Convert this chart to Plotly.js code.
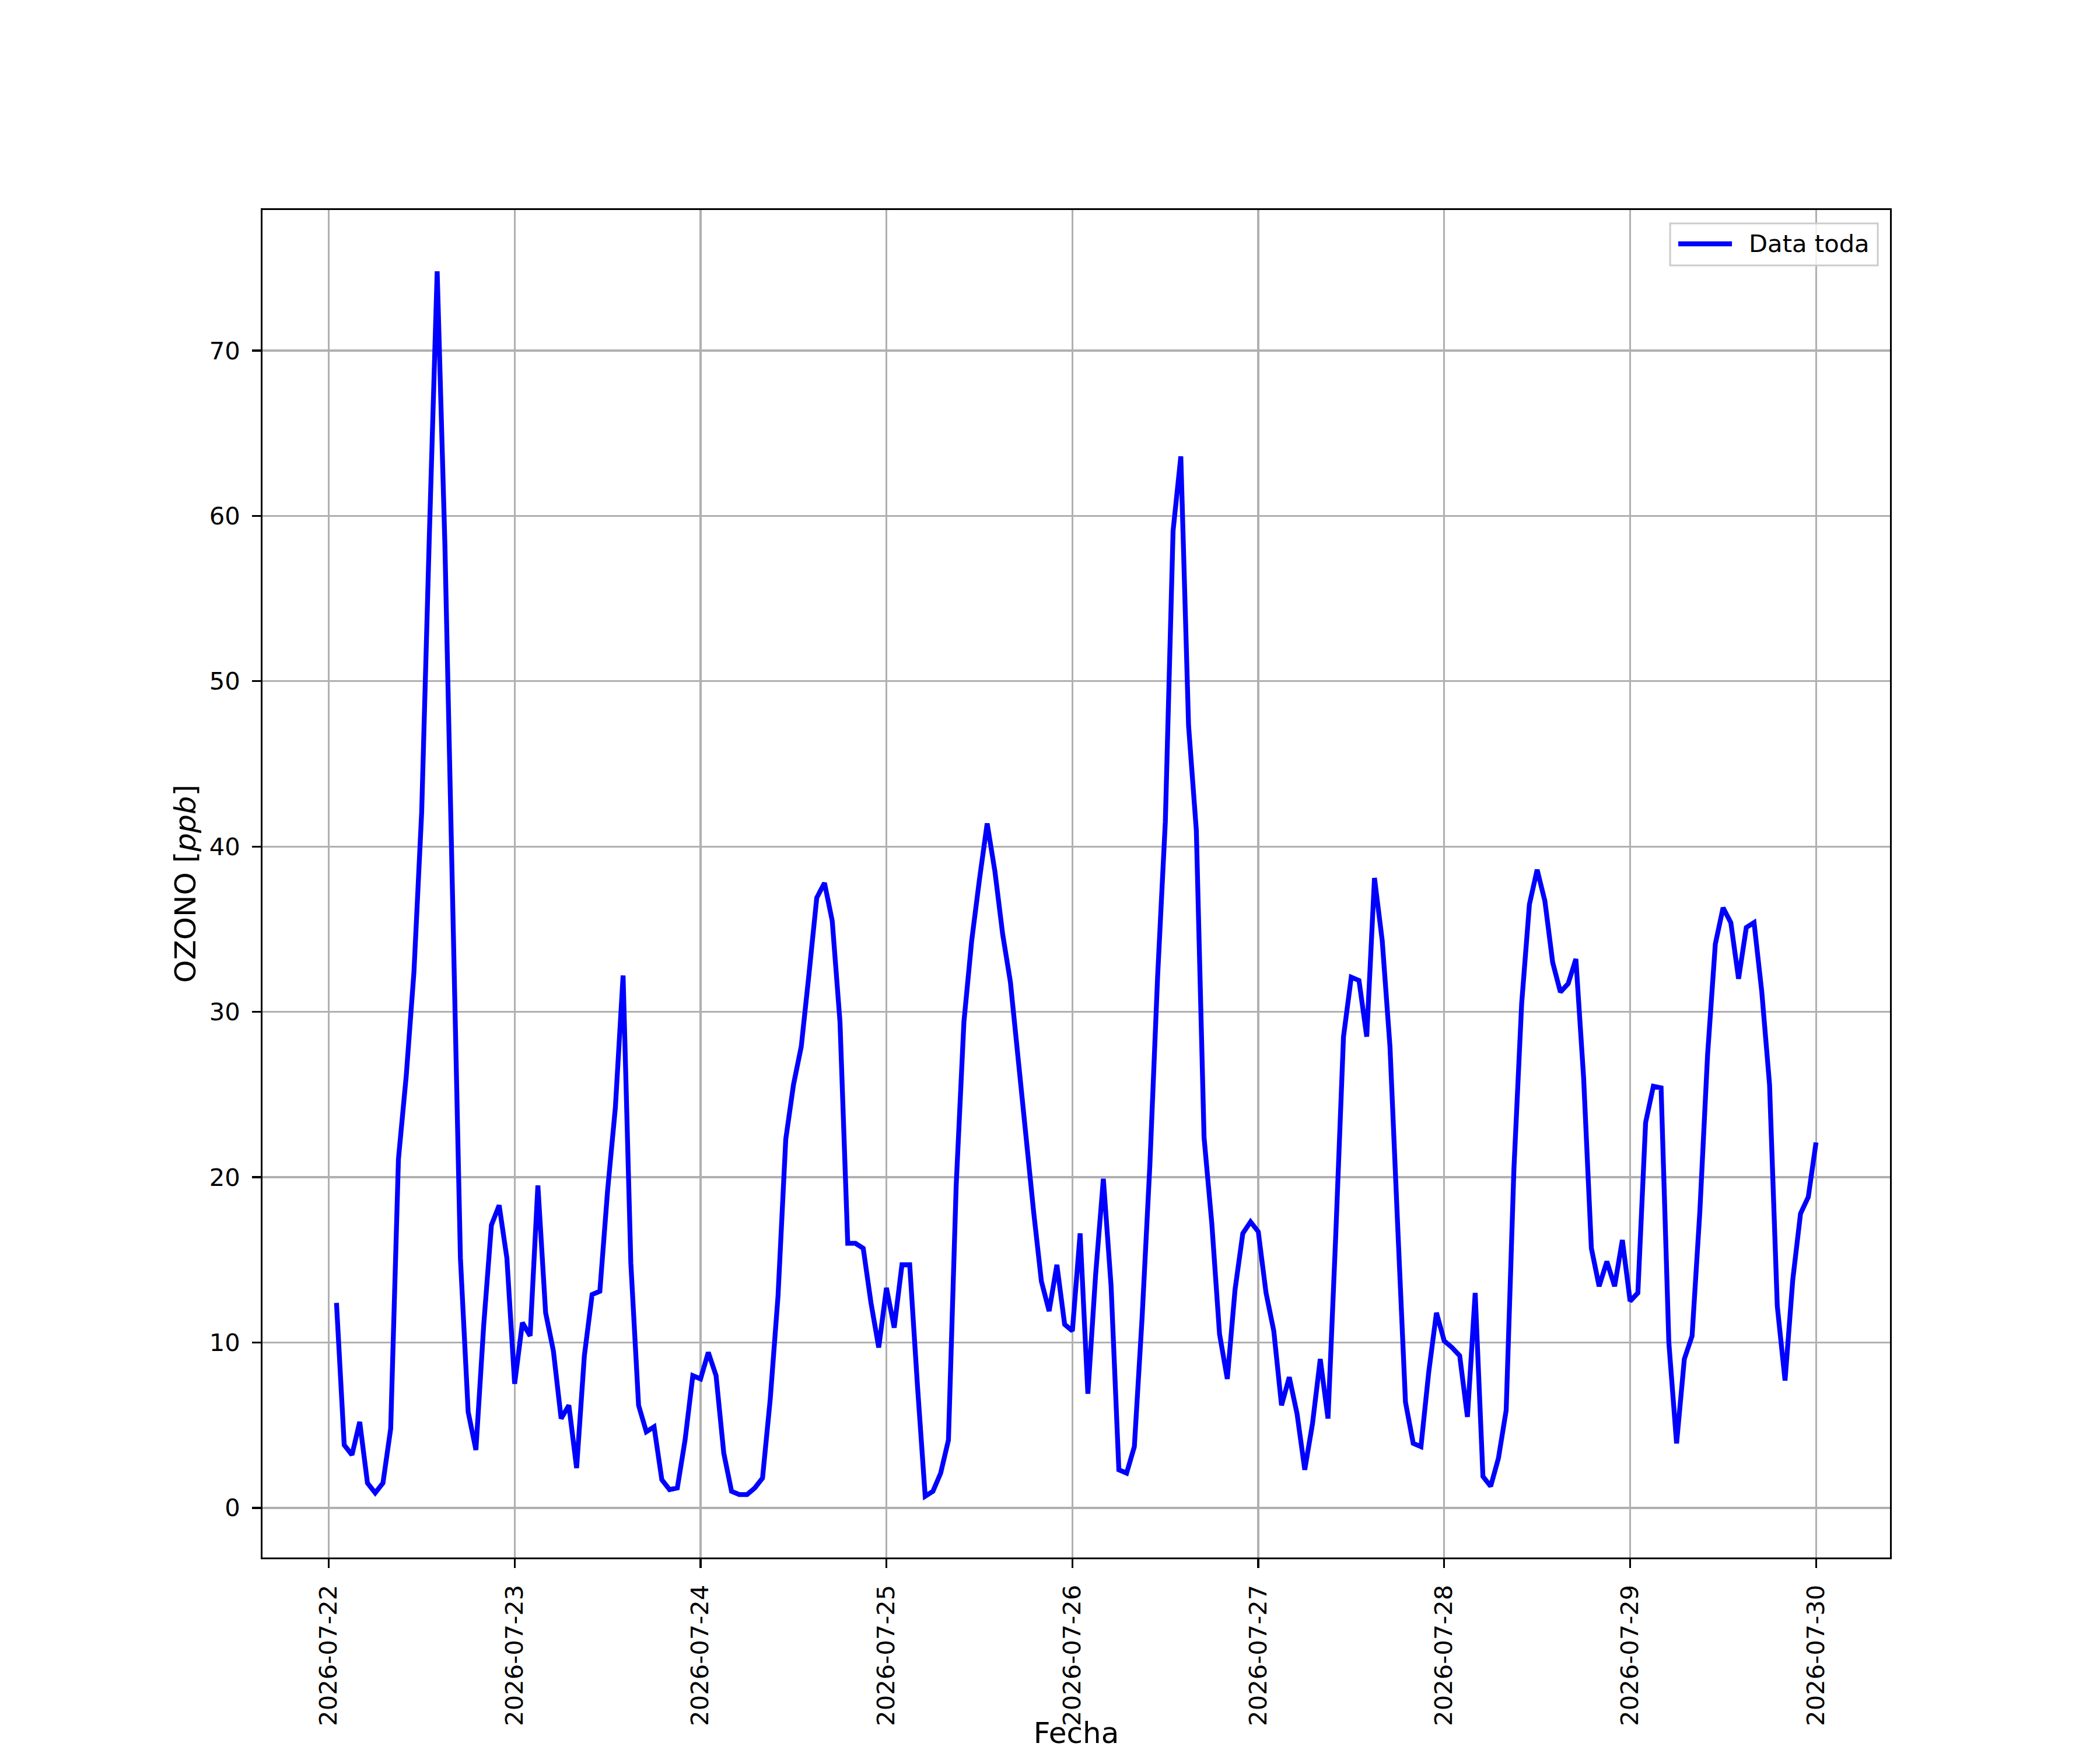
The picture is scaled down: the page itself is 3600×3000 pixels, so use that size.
<!DOCTYPE html>
<html>
<head>
<meta charset="utf-8">
<script src="https://cdn.plot.ly/plotly-3.0.1.min.js"></script>
<style>html,body{margin:0;padding:0;background:#fff;}</style>
</head>
<body>
<div id="chart" style="width:3600px;height:3000px;"></div>
<script>
// Hourly ozone readings (ppb), first reading 2026-07-22 01:00
const startTime = "2026-07-22T01:00:00";
const day22 = [12.4, 3.8, 3.2, 5.2, 1.5, 0.9, 1.5, 4.8, 21.1, 26.1, 32.4, 42.1, 59.0, 74.8, 58.2, 37.0, 15.1, 5.8, 3.5, 11.0, 17.1, 18.3, 15.1];
const day23 = [7.5, 11.2, 10.4, 19.5, 11.8, 9.5, 5.4, 6.2, 2.4, 9.2, 12.9, 13.1, 19.2, 24.2, 32.2, 14.8, 6.2, 4.6, 4.9, 1.7, 1.1, 1.2, 4.1, 8.0];
const day24 = [7.8, 9.4, 8.0, 3.3, 1.0, 0.8, 0.8, 1.2, 1.8, 6.6, 12.8, 22.3, 25.6, 27.9, 32.3, 36.9, 37.8, 35.5, 29.4, 16.0, 16.0, 15.7, 12.4, 9.7];
const day25 = [13.3, 10.9, 14.7, 14.7, 7.4, 0.7, 1.0, 2.1, 4.1, 19.5, 29.4, 34.3, 38.0, 41.4, 38.5, 34.7, 31.8, 27.0, 22.0, 17.9, 13.7, 11.9, 14.7, 11.1];
const day26 = [10.7, 16.6, 6.9, 14.1, 19.9, 13.4, 2.3, 2.1, 3.7, 11.5, 20.7, 32.1, 41.5, 59.1, 63.6, 47.3, 41.0, 22.4, 17.2, 10.5, 7.8, 13.2, 16.6, 17.3];
const day27 = [16.7, 13.0, 10.7, 6.2, 7.9, 5.7, 2.3, 5.1, 9.0, 5.4, 16.5, 28.5, 32.1, 31.9, 28.5, 38.1, 34.3, 27.9, 17.0, 6.4, 3.9, 3.7, 8.2, 11.8];
const day28 = [10.1, 9.7, 9.2, 5.5, 13.0, 1.9, 1.3, 3.0, 5.9, 20.5, 30.5, 36.5, 38.6, 36.7, 33.0, 31.2, 31.7, 33.2, 26.0, 15.7, 13.4, 14.9, 13.4, 16.2];
const day29 = [12.5, 13.0, 23.3, 25.5, 25.4, 10.0, 3.9, 9.0, 10.4, 17.9, 27.4, 34.1, 36.3, 35.4, 32.0, 35.1, 35.4, 31.2, 25.6, 12.2, 7.7, 13.8, 17.8, 18.8];
const day30 = [22.1];

const seriesName = "Data toda";
const xTitle = "Fecha";
const yTitle = "OZONO [<i>ppb</i>]";
const yTicks = [0, 10, 20, 30, 40, 50, 60, 70];
const xTicks = ["2026-07-22", "2026-07-23", "2026-07-24", "2026-07-25", "2026-07-26", "2026-07-27", "2026-07-28", "2026-07-29", "2026-07-30"];

const ozone = [].concat(day22, day23, day24, day25, day26, day27, day28, day29, day30);

function pad(n){ return String(n).padStart(2, "0"); }
function fmt(d){
  return d.getUTCFullYear() + "-" + pad(d.getUTCMonth()+1) + "-" + pad(d.getUTCDate()) +
         " " + pad(d.getUTCHours()) + ":" + pad(d.getUTCMinutes()) + ":00";
}
const t0 = Date.parse(startTime + "Z");
const times = ozone.map((_, i) => fmt(new Date(t0 + i * 3600000)));

// matplotlib-like auto limits with 5% margins
const tFirst = t0, tLast = t0 + (ozone.length - 1) * 3600000;
const tPad = (tLast - tFirst) * 0.05;
const xRange = [fmt(new Date(tFirst - tPad)), fmt(new Date(tLast + tPad))];
const vMin = Math.min(...ozone), vMax = Math.max(...ozone);
const vPad = (vMax - vMin) * 0.05;
const yRange = [vMin - vPad, vMax + vPad];

const FONT = "DejaVu Sans, sans-serif";
const FS = 41.7;
const FS_LABEL = 50;
const BLUE = "#0000ff";

const trace = {
  x: times,
  y: ozone,
  type: "scatter",
  mode: "lines",
  name: seriesName,
  line: {color: BLUE, width: 8.3},
  showlegend: false
};

// matplotlib-style legend box (upper right), drawn in paper coordinates
const legendShapes = [
  {type: "rect", xref: "paper", yref: "paper", x0: 0.8649, x1: 0.9925, y0: 0.9589, y1: 0.9900,
   line: {color: "#cccccc", width: 3}, fillcolor: "rgba(255,255,255,0.8)", layer: "above"},
  {type: "line", xref: "paper", yref: "paper", x0: 0.8699, x1: 0.9029, y0: 0.9749, y1: 0.9749,
   line: {color: BLUE, width: 8.3}, layer: "above"}
];
const legendText = [
  {xref: "paper", yref: "paper", x: 0.9125, y: 0.9749, xanchor: "left", yanchor: "middle",
   text: seriesName, showarrow: false, font: {family: FONT, size: FS, color: "#000000"}}
];

const layout = {
  width: 3600,
  height: 3000,
  paper_bgcolor: "#ffffff",
  plot_bgcolor: "#ffffff",
  margin: {l: 450, r: 360, t: 360, b: 330, pad: 0},
  font: {family: FONT, size: FS, color: "#000000"},
  showlegend: false,
  shapes: legendShapes,
  annotations: legendText,
  xaxis: {
    type: "date",
    range: xRange,
    tickmode: "array",
    tickvals: xTicks,
    ticktext: xTicks,
    tickangle: -90,
    tickfont: {family: FONT, size: FS, color: "#000000"},
    ticks: "outside",
    ticklen: 14.6,
    tickwidth: 3.33,
    tickcolor: "#000000",
    ticklabelstandoff: 12,
    showgrid: true,
    gridcolor: "#b0b0b0",
    gridwidth: 3.33,
    zeroline: false,
    showline: true,
    mirror: true,
    linecolor: "#000000",
    linewidth: 3.33,
    automargin: false,
    title: {text: xTitle, font: {family: FONT, size: FS_LABEL, color: "#000000"}, standoff: 25}
  },
  yaxis: {
    range: yRange,
    tickmode: "array",
    tickvals: yTicks,
    ticktext: yTicks.map(String),
    tickfont: {family: FONT, size: FS, color: "#000000"},
    ticks: "outside",
    ticklen: 14.6,
    tickwidth: 3.33,
    tickcolor: "#000000",
    ticklabelstandoff: 12,
    showgrid: true,
    gridcolor: "#b0b0b0",
    gridwidth: 3.33,
    zeroline: false,
    showline: true,
    mirror: true,
    linecolor: "#000000",
    linewidth: 3.33,
    automargin: false,
    title: {text: yTitle, font: {family: FONT, size: FS_LABEL, color: "#000000"}, standoff: 8}
  }
};

Plotly.newPlot("chart", [trace], layout, {staticPlot: true, displayModeBar: false});
</script>
</body>
</html>
